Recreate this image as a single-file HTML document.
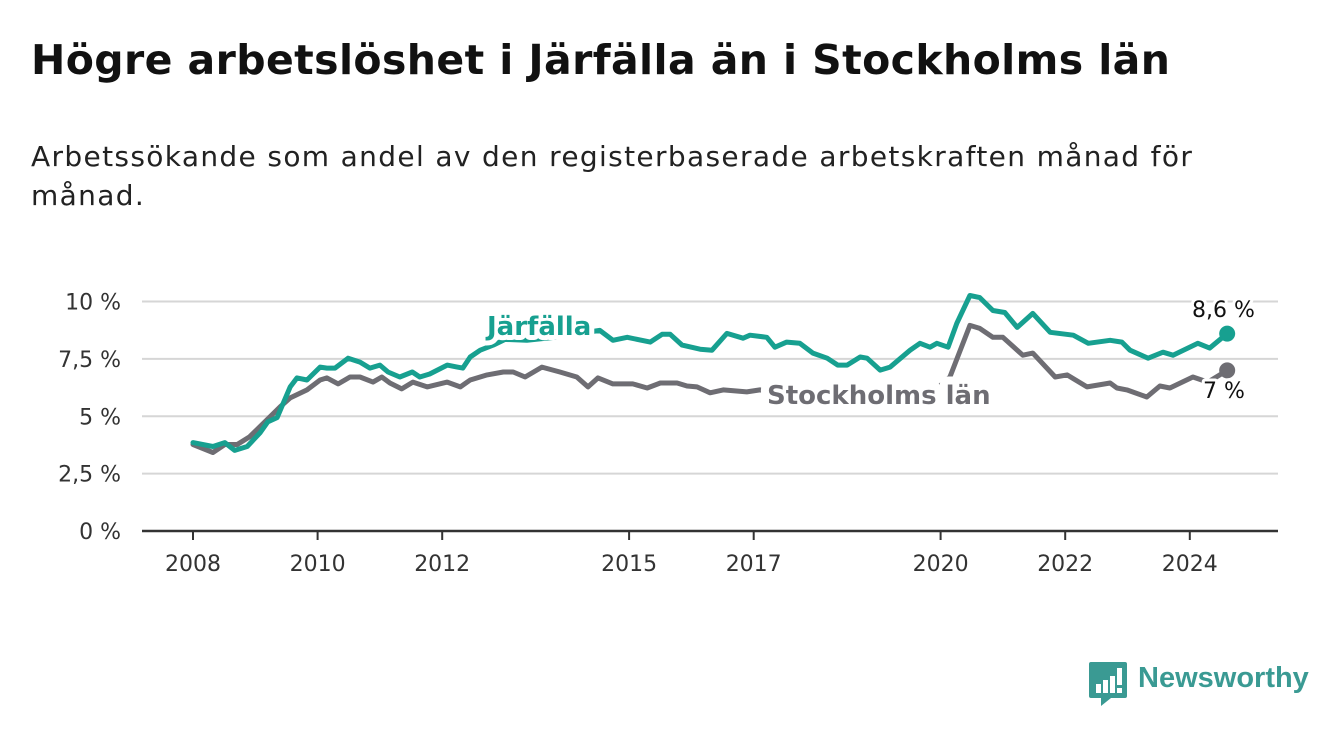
<!DOCTYPE html>
<html><head><meta charset="utf-8">
<style>
body{margin:0;width:1340px;height:734px;background:#fff;font-family:"DejaVu Sans","Liberation Sans",sans-serif;overflow:hidden;position:relative}
h1{position:absolute;left:31px;top:36px;margin:0;font-size:41px;font-weight:bold;color:#111;letter-spacing:0.4px;white-space:nowrap}
p{position:absolute;left:31px;top:137px;margin:0;font-size:28px;line-height:39px;color:#222;width:1250px;letter-spacing:1.35px}
svg{position:absolute;left:0;top:0}
.logo{position:absolute;left:1138px;top:662px;font-family:"Liberation Sans",sans-serif;font-size:29px;color:#3a9a93;font-weight:bold}
</style></head><body>
<h1>Högre arbetslöshet i Järfälla än i Stockholms län</h1>
<p>Arbetssökande som andel av den registerbaserade arbetskraften månad för<br>månad.</p>
<svg id="chart" width="1340" height="734"></svg>
<svg width="40" height="46" style="left:1089px;top:662px">
<path d="M2 0 H36 Q38 0 38 2 V34 Q38 36 36 36 H22 L12 44 V36 H2 Q0 36 0 34 V2 Q0 0 2 0Z" fill="#3a9a93"/>
<rect x="7" y="22" width="5" height="9" fill="#fff"/><rect x="14" y="18" width="5" height="13" fill="#fff"/><rect x="21" y="14" width="5" height="17" fill="#fff"/><rect x="28" y="6" width="5" height="17" fill="#fff"/><rect x="28" y="26" width="5" height="5" fill="#fff"/>
</svg>
<div class="logo">Newsworthy</div>
<script>
const yTicks=[0,2.5,5,7.5,10];
const yTickLabels=["0 %","2,5 %","5 %","7,5 %","10 %"];
const xTicks=[2008,2010,2012,2015,2017,2020,2022,2024];
const jYears=[2008.00,2008.32,2008.51,2008.67,2008.87,2009.08,2009.20,2009.35,2009.56,2009.67,2009.83,2010.04,2010.15,2010.28,2010.49,2010.68,2010.84,2011.00,2011.13,2011.32,2011.52,2011.64,2011.80,2012.08,2012.24,2012.33,2012.45,2012.61,2012.82,2013.01,2013.36,2013.81,2014.21,2014.53,2014.74,2014.97,2015.34,2015.53,2015.66,2015.85,2016.14,2016.33,2016.57,2016.83,2016.94,2017.21,2017.34,2017.53,2017.74,2017.95,2018.18,2018.35,2018.50,2018.71,2018.82,2019.03,2019.19,2019.51,2019.67,2019.83,2019.94,2020.12,2020.26,2020.47,2020.63,2020.84,2021.03,2021.23,2021.48,2021.76,2022.13,2022.37,2022.72,2022.91,2023.04,2023.33,2023.57,2023.73,2024.13,2024.32,2024.60];
const jValues=[3.85,3.68,3.85,3.51,3.68,4.29,4.76,4.94,6.28,6.67,6.58,7.14,7.10,7.10,7.53,7.36,7.10,7.23,6.93,6.71,6.93,6.71,6.84,7.23,7.14,7.10,7.58,7.88,8.10,8.35,8.31,8.44,8.61,8.74,8.31,8.44,8.23,8.57,8.57,8.10,7.92,7.88,8.61,8.40,8.53,8.44,8.01,8.23,8.18,7.75,7.53,7.23,7.23,7.58,7.53,7.01,7.14,7.88,8.18,8.01,8.18,8.01,9.05,10.26,10.17,9.61,9.52,8.87,9.48,8.66,8.53,8.18,8.31,8.23,7.88,7.53,7.79,7.66,8.18,7.97,8.6];
const sYears=[2008.00,2008.32,2008.51,2008.71,2008.91,2009.19,2009.40,2009.56,2009.83,2010.04,2010.15,2010.33,2010.52,2010.68,2010.89,2011.03,2011.16,2011.35,2011.53,2011.76,2012.08,2012.29,2012.45,2012.72,2012.98,2013.14,2013.33,2013.60,2013.89,2014.16,2014.34,2014.50,2014.74,2015.06,2015.29,2015.50,2015.77,2015.93,2016.09,2016.30,2016.51,2016.89,2017.10,2017.5,2018.0,2018.5,2019.0,2019.5,2019.9,2020.15,2020.47,2020.63,2020.84,2021.00,2021.32,2021.48,2021.84,2022.03,2022.35,2022.72,2022.83,2022.99,2023.31,2023.52,2023.68,2024.05,2024.29,2024.60];
const sValues=[3.77,3.42,3.77,3.77,4.11,4.85,5.41,5.80,6.15,6.58,6.67,6.41,6.71,6.71,6.49,6.71,6.45,6.19,6.49,6.28,6.49,6.28,6.58,6.80,6.93,6.93,6.71,7.14,6.93,6.71,6.28,6.67,6.41,6.41,6.23,6.45,6.45,6.32,6.28,6.02,6.15,6.06,6.15,6.0,5.85,5.75,5.8,5.95,6.1,6.71,8.96,8.83,8.44,8.44,7.66,7.75,6.71,6.80,6.28,6.45,6.23,6.15,5.84,6.32,6.23,6.71,6.49,7.0];
const jLast="8,6 %", sLast="7 %";
const NS="http://www.w3.org/2000/svg";
const FONT="DejaVu Sans, Liberation Sans, sans-serif";
const svg=document.getElementById('chart');
const X=v=>193+(v-2008)*62.3;
const Y=v=>531-v*22.95;
function mk(t,a,parent){const e=document.createElementNS(NS,t);for(const k in a)e.setAttribute(k,a[k]);(parent||svg).appendChild(e);return e;}
yTicks.forEach((t,i)=>{
 if(t>0){const g=mk('line',{x1:142,x2:1278,y1:Y(t),y2:Y(t),stroke:'#d6d6d6','stroke-width':2});
 
 }
 const l=mk('text',{x:121,y:Y(t)+8,'text-anchor':'end','font-size':22,fill:'#333','font-family':FONT});
 l.textContent=yTickLabels[i];
 
 
});
const base=mk('line',{x1:142,x2:1278,y1:Y(0),y2:Y(0),stroke:'#333','stroke-width':2.5});


xTicks.forEach(t=>{
 const tk=mk('line',{x1:X(t),x2:X(t),y1:Y(0),y2:Y(0)+9,stroke:'#333','stroke-width':2});
 
 
 const l=mk('text',{x:X(t),y:571,'text-anchor':'middle','font-size':22,fill:'#333','font-family':FONT});
 l.textContent=t;
 
 
});
function line(xs,vs,col,name){
 const d=xs.map((x,i)=>(i?'L':'M')+X(x).toFixed(1)+' '+Y(vs[i]).toFixed(1)).join(' ');
 const p=mk('path',{d:d,fill:'none',stroke:col,'stroke-width':5,'stroke-linejoin':'round','stroke-linecap':'round'});
 
 
 const n=xs.length-1;
 const c=mk('circle',{cx:X(xs[n]),cy:Y(vs[n]),r:8,fill:col});
 
 
}
line(sYears,sValues,'#6e6d73','stockholm');
line(jYears,jValues,'#17a090','jarfalla');
function lab(txt,x,y,col,name,bold,size,sw){
 const t=mk('text',{x:x,y:y,'font-size':size,'font-weight':bold?'bold':'normal',fill:col,stroke:'#fff','stroke-width':sw,'paint-order':'stroke','stroke-linejoin':'round','font-family':FONT});
 t.textContent=txt;
 
 
}
lab('Järfälla',487,335,'#17a090','jarfalla-series-label',true,26,10);
lab('Stockholms län',767,404,'#6e6d73','stockholm-series-label',true,26,16);
lab(jLast,1192,317,'#111','jarfalla-end-value',false,22,6);
lab(sLast,1203,398,'#111','stockholm-end-value',false,22,6);
</script>
</body></html>
